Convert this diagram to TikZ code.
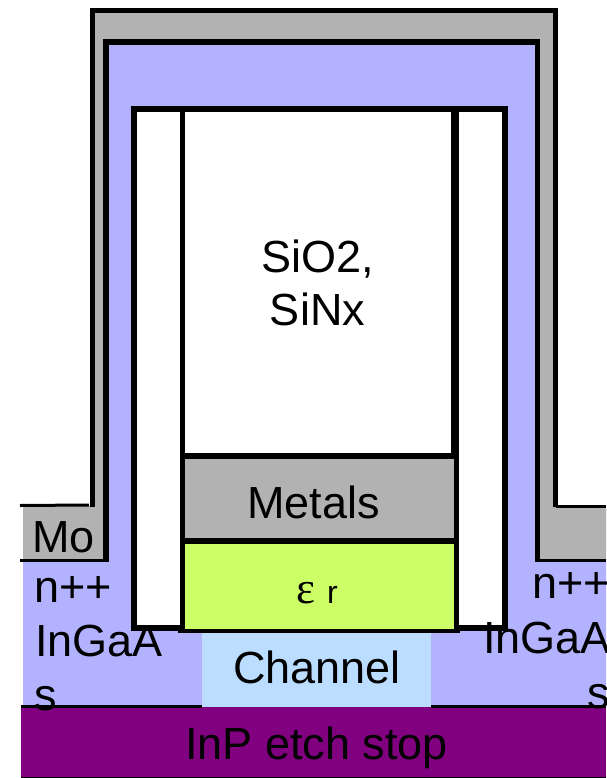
\documentclass[tikz,border=0pt]{standalone}
\usepackage{fontspec}
\setmainfont{Liberation Sans}
\newfontfamily\serifgr{Liberation Serif}
\definecolor{grayM}{HTML}{B2B2B2}
\definecolor{blueN}{HTML}{B2B2FF}
\definecolor{greenE}{HTML}{CCFF66}
\definecolor{chanB}{HTML}{BBDDFF}
\definecolor{purpI}{HTML}{800080}
\tikzset{
  lbl/.style={inner sep=0pt,outer sep=0pt,anchor=base west,font=\fontsize{45}{54}\selectfont,text=black},
  thick5/.style={draw=black,line width=5.4pt,line cap=butt,line join=miter},
  thin3/.style={draw=black,line width=3pt,line cap=butt},
}
\begin{document}
\begin{tikzpicture}[x=1pt,y=-1pt]
\useasboundingbox (0,0) rectangle (606,778);
\clip (0,0) rectangle (606,778);
% gray Mo layer
\fill[grayM] (23,506) -- (92.5,506) -- (92.5,10.5) -- (555.5,10.5) -- (555.5,506) -- (606,506) -- (606,560) -- (23,560) -- cycle;
% n++ layer
\fill[blueN] (106,42) -- (537.5,42) -- (537.5,560) -- (606,560) -- (606,708) -- (23,708) -- (23,560) -- (106,560) -- cycle;
% Spacers and gate
\fill[white] (134,109) rectangle (505,628);
\fill[grayM] (182.5,456) rectangle (456,541);
\fill[greenE] (182.5,541) rectangle (456,631);
\fill[chanB] (202,631) rectangle (431,708);
\fill[purpI] (21,707) rectangle (606,777);
% Outlines
\draw[thin3] (20,505.5) -- (89,505);
\draw[thick5] (92.5,507) -- (92.5,10.5) -- (555.5,10.5) -- (555.5,507);
\draw[thin3] (555.5,506) -- (606,506);
\draw[thin3] (20,560.5) -- (108.5,560.5);
\draw[thick5] (106,562) -- (106,42) -- (537.5,42) -- (537.5,562);
\draw[thin3] (535,560.5) -- (606,560.5);
\draw[thick5] (134,628) -- (134,109) -- (505,109) -- (505,628);
\draw[thick5] (131.3,628) -- (180,628);
\draw[thick5] (458,628) -- (507.7,628);
\draw[thick5] (182.5,106.3) -- (182.5,631);
\draw[thick5,line width=7.5pt] (455,106.3) -- (455,456);
\draw[thick5] (456.5,456) -- (456.5,631);
\draw[thick5] (182.5,456) -- (456.5,456);
\draw[thick5] (182.5,541) -- (456.5,541);
\draw[thin3,line width=4pt] (178,631) -- (460,631);
\draw[thin3] (21,706.5) -- (202,706.5);
\draw[thin3] (431,706.5) -- (606,706.5);
\draw[black,line width=0.8pt] (21,777.5) -- (606,777.5);
% Labels
\node[lbl,anchor=base] (sio) at (318,272) {SiO2,};
\node[lbl,anchor=base] (sin) at (317.5,325) {SiNx};
\node[lbl] (met) at (247,518) {Metals};
\node[lbl] (eps) at (296,603) {{\serifgr ε}};
\node[lbl,font=\fontsize{32}{38}\selectfont] (rr) at (327,603) {r};
\node[lbl] (cha) at (233,683) {Channel};
\node[lbl] (inp) at (185,759) {InP etch stop};
\node[lbl] (mo) at (32,552) {Mo};
\node[lbl] (l1) at (34.5,602) {n++};
\node[lbl] (l2) at (35,656) {InGaA};
\node[lbl] (l3) at (34.5,710) {s};
\node[lbl] (r1) at (532.5,598) {n++};
\node[lbl] (r2) at (483,653) {InGaA};
\node[lbl] (r3) at (587,708) {s};
\end{tikzpicture}
\end{document}
